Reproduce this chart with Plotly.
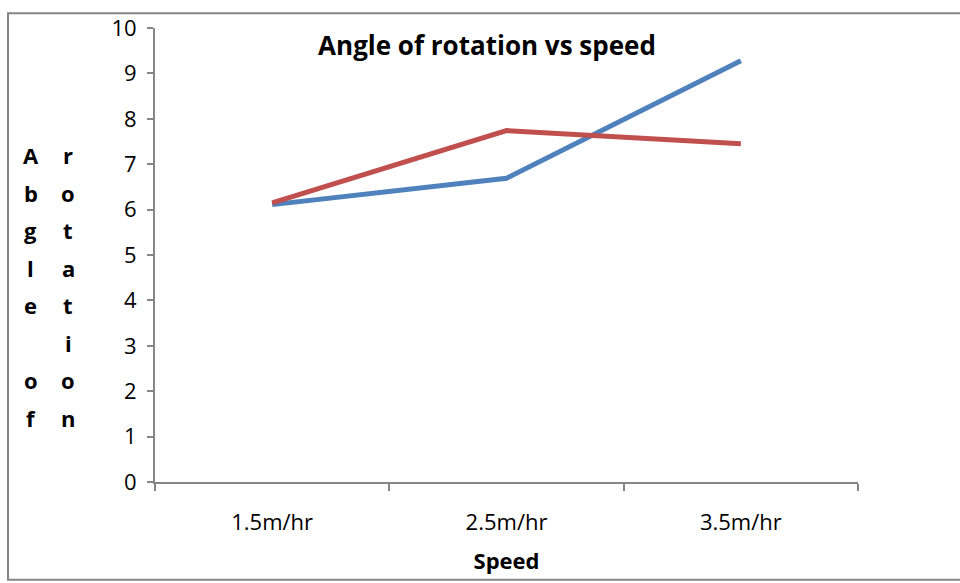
import plotly.graph_objects as go

# Data
speeds = ["1.5m/hr", "2.5m/hr", "3.5m/hr"]
series_blue = [6.11, 6.69, 9.28]
series_red = [6.15, 7.74, 7.45]
y_ticks = [0, 1, 2, 3, 4, 5, 6, 7, 8, 9, 10]
ylabel_col1 = ["A", "b", "g", "l", "e", "", "o", "f"]
ylabel_col2 = ["r", "o", "t", "a", "t", "i", "o", "n"]

W, H = 960, 583
ML, MR, MT, MB = 155, 102, 22, 101
PW, PH = W - ML - MR, H - MT - MB

AXIS_GREY = "#868686"
FONT = "Open Sans"


def px_x(px):
    return (px - ML) / PW


def px_y(py):
    return (H - MB - py) / PH


fig = go.Figure()
fig.add_trace(go.Scatter(x=speeds, y=series_blue, mode="lines",
                         line=dict(color="#4F81BD", width=5), showlegend=False))
fig.add_trace(go.Scatter(x=speeds, y=series_red, mode="lines",
                         line=dict(color="#C0504D", width=5), showlegend=False))

annotations = []
# Vertical, letter-by-letter y-axis caption in two columns
row_top, row_step = 151, 38
for col_x, letters in ((31, ylabel_col1), (68, ylabel_col2)):
    for i, ch in enumerate(letters):
        if not ch:
            continue
        annotations.append(dict(
            text=ch, xref="paper", yref="paper",
            x=px_x(col_x), y=px_y(row_top + i * row_step),
            xanchor="center", yanchor="middle", showarrow=False,
            font=dict(family=FONT, size=22, color="black", weight="bold"),
        ))

fig.update_layout(
    width=W, height=H,
    margin=dict(l=ML, r=MR, t=MT, b=MB),
    paper_bgcolor="white", plot_bgcolor="white",
    title=dict(text="<b>Angle of rotation vs speed</b>",
               xref="container", yref="container",
               x=487 / W, y=1 - 46 / H, xanchor="center", yanchor="middle",
               font=dict(family=FONT, size=26, color="black")),
    annotations=annotations,
    shapes=[dict(type="rect", xref="paper", yref="paper",
                 x0=px_x(8), x1=px_x(975), y0=px_y(581), y1=px_y(7),
                 line=dict(color=AXIS_GREY, width=2), layer="below")],
)

fig.update_xaxes(
    type="category", range=[-0.5, 2.5],
    showgrid=False, zeroline=False,
    showline=True, linecolor=AXIS_GREY, linewidth=2,
    ticks="outside", tickson="boundaries", ticklen=7, tickwidth=2, tickcolor=AXIS_GREY,
    ticklabelstandoff=20,
    tickfont=dict(family=FONT, size=22, color="black"),
    title=dict(text="<b>Speed</b>", standoff=18,
               font=dict(family=FONT, size=22, color="black")),
)
fig.update_yaxes(
    range=[0, 10], tickvals=y_ticks,
    showgrid=False, zeroline=False,
    showline=True, linecolor=AXIS_GREY, linewidth=2,
    ticks="outside", ticklen=6, tickwidth=2, tickcolor=AXIS_GREY,
    ticklabelstandoff=6,
    tickfont=dict(family=FONT, size=22, color="black"),
)

fig.write_html("out.html")
